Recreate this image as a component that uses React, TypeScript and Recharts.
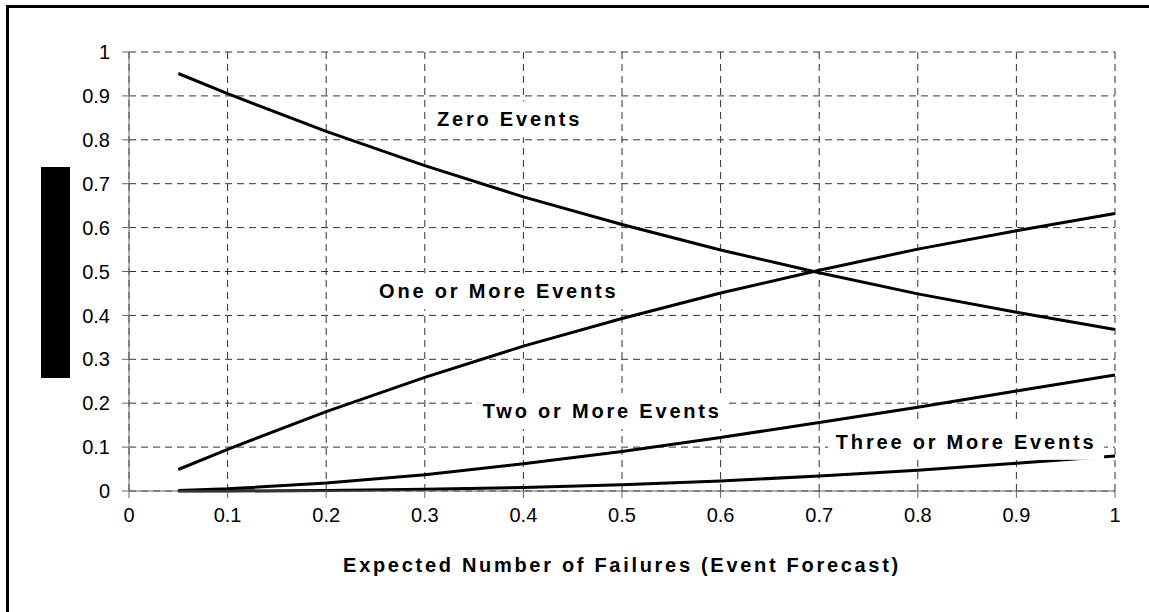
import { LineChart, Line, XAxis, YAxis, CartesianGrid, ReferenceDot } from 'recharts';

// expected number of failures (x) and probability of each outcome
const forecast = [0.05, 0.1, 0.2, 0.3, 0.4, 0.5, 0.6, 0.7, 0.8, 0.9, 1.0];
const zeroEvents = [0.951, 0.905, 0.819, 0.741, 0.670, 0.607, 0.549, 0.497, 0.449, 0.407, 0.368];
const oneOrMore = [0.049, 0.095, 0.181, 0.259, 0.330, 0.393, 0.451, 0.503, 0.551, 0.593, 0.632];
const twoOrMore = [0.001, 0.005, 0.018, 0.037, 0.062, 0.090, 0.122, 0.156, 0.191, 0.228, 0.264];
const threeOrMore = [0.000, 0.000, 0.001, 0.004, 0.008, 0.014, 0.023, 0.034, 0.047, 0.063, 0.080];

const xTicks = [0, 0.1, 0.2, 0.3, 0.4, 0.5, 0.6, 0.7, 0.8, 0.9, 1];
const yTicks = [0, 0.1, 0.2, 0.3, 0.4, 0.5, 0.6, 0.7, 0.8, 0.9, 1];

const seriesLabels = ['Zero Events', 'One or More Events', 'Two or More Events', 'Three or More Events'];
const labelX = [0.386, 0.375, 0.48, 0.849];
const labelY = [0.847, 0.455, 0.182, 0.112];

const data = forecast.map((x, i) => ({
  x,
  zero: zeroEvents[i],
  one: oneOrMore[i],
  two: twoOrMore[i],
  three: threeOrMore[i],
}));

const FONT = '"Liberation Sans", Arial, sans-serif';

function LabelBox({ cx, cy, text }: { cx?: number; cy?: number; text: string }) {
  if (cx == null || cy == null) return null;
  const w = text.length * 13.2 + 12;
  const h = 36;
  return (
    <g>
      <rect x={cx - w / 2} y={cy - h / 2} width={w} height={h} fill="#fff" />
      <text
        x={cx}
        y={cy}
        textAnchor="middle"
        dominantBaseline="central"
        fontFamily={FONT}
        fontSize={20}
        fontWeight="bold"
        fill="#000"
        style={{ letterSpacing: '2.8px' }}
      >
        {text}
      </text>
    </g>
  );
}

export default function App() {
  return (
    <div style={{ position: 'fixed', left: 0, top: 0, width: 1149, height: 612, background: '#fff', overflow: 'hidden' }}>
      <div
        style={{
          position: 'absolute',
          left: 6,
          top: 5,
          width: 1200,
          height: 700,
          borderLeft: '3px solid #000',
          borderTop: '3px solid #000',
        }}
      />
      <div style={{ position: 'absolute', left: 41, top: 167, width: 29, height: 211, background: '#000' }} />
      <div style={{ position: 'absolute', left: 0, top: 0 }}>
        <LineChart
          width={1149}
          height={612}
          data={data}
          margin={{ top: 52, right: 34, bottom: 81, left: 69 }}
          style={{ fontFamily: FONT }}
        >
          <CartesianGrid stroke="#333" strokeDasharray="7 5" />
          <XAxis
            dataKey="x"
            type="number"
            domain={[0, 1]}
            ticks={xTicks}
            height={40}
            stroke="#666"
            tickSize={7}
            tickMargin={10}
            tick={{ fill: '#000', fontSize: 20 }}
            label={{
              value: 'Expected Number of Failures (Event Forecast)',
              position: 'bottom',
              offset: 27,
              fill: '#000',
              fontSize: 20,
              fontWeight: 'bold',
              style: { letterSpacing: '2.7px' },
            }}
          />
          <YAxis
            type="number"
            domain={[0, 1]}
            ticks={yTicks}
            width={60}
            stroke="#666"
            tickSize={7}
            tickMargin={12}
            tick={{ fill: '#000', fontSize: 20 }}
          />
          <Line dataKey="zero" stroke="#000" strokeWidth={3} dot={false} isAnimationActive={false} />
          <Line dataKey="one" stroke="#000" strokeWidth={3} dot={false} isAnimationActive={false} />
          <Line dataKey="two" stroke="#000" strokeWidth={3} dot={false} isAnimationActive={false} />
          <Line dataKey="three" stroke="#000" strokeWidth={3} dot={false} isAnimationActive={false} />
          {seriesLabels.map((t, i) => (
            <ReferenceDot
              key={t}
              x={labelX[i]}
              y={labelY[i]}
              r={0}
              shape={(p: any) => <LabelBox cx={p.cx} cy={p.cy} text={t} />}
            />
          ))}
        </LineChart>
      </div>
    </div>
  );
}
